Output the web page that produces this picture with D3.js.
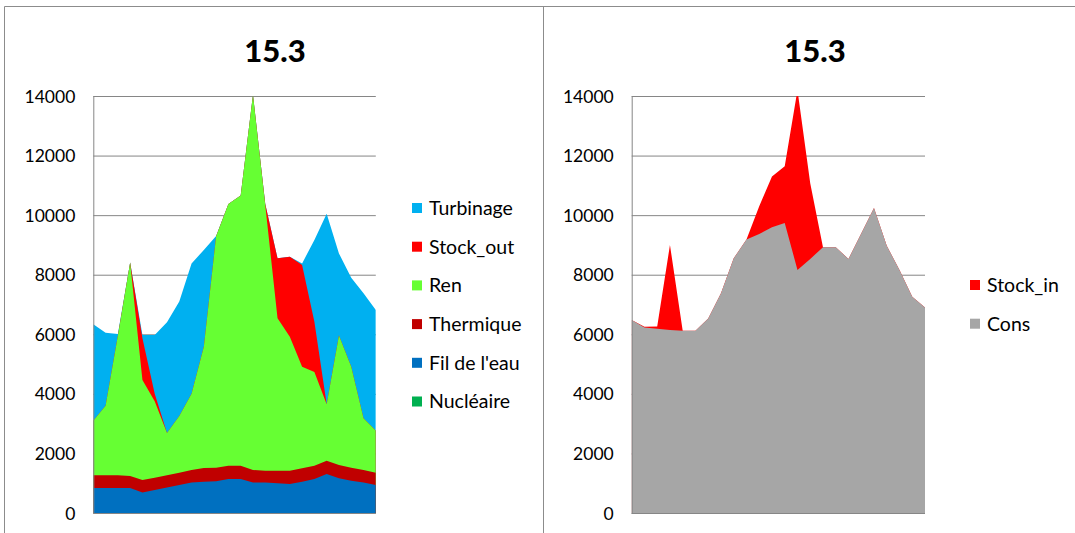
<!DOCTYPE html>
<html>
<head>
<meta charset="utf-8">
<script src="https://cdn.jsdelivr.net/npm/d3@7"></script>
<style>
  html, body { margin: 0; padding: 0; background: #fff; }
  svg { display: block; font-family: Lato, "Open Sans", sans-serif; }
</style>
</head>
<body>
<svg id="chart" width="1075" height="533"></svg>
<script>
// Hours of the day (one point per hour)
const hours = [1,2,3,4,5,6,7,8,9,10,11,12,13,14,15,16,17,18,19,20,21,22,23,24];

// Production mix (MW)
const nucleaire = [0,0,0,0,0,0,0,0,0,0,0,0,0,0,0,0,0,0,0,0,0,0,0,0];
const filDeLEau = [840,840,840,840,685,770,860,940,1020,1050,1065,1140,1140,1020,1020,995,975,1050,1140,1310,1165,1085,1020,940];
const thermique = [425,425,425,405,425,415,405,415,425,460,455,450,450,425,400,425,445,450,450,445,445,435,425,415];
const ren       = [1835,2335,4685,7165,3355,2565,1425,1905,2555,4075,7770,8780,9070,12595,8920,5115,4500,3410,3140,1895,4350,3390,1735,1410];
const stockOut  = [0,0,0,0,1400,250,0,0,0,0,0,0,0,0,30,2015,2685,3415,1690,0,0,0,0,0];
const turbinage = [3240,2450,60,0,110,1975,3710,3840,4380,3245,10,0,0,0,0,0,0,55,2745,6400,2755,2990,4195,4050];

// Demand side (MW)
const cons    = [6480,6230,6190,6140,6120,6120,6530,7380,8550,9180,9370,9590,9740,8160,8530,8920,8920,8530,9380,10240,8970,8160,7260,6900];
const stockIn = [0,20,70,2860,0,0,0,0,0,0,930,1710,1900,6040,2540,0,0,0,0,0,0,0,0,0];

const yTicks = [0,2000,4000,6000,8000,10000,12000,14000];
const title = "15.3";

const svg = d3.select("#chart");

// panel frames
const frame = svg.append("g").attr("stroke", "#8c8c8c").attr("stroke-width", 1).attr("fill", "none");
frame.append("line").attr("x1", 4.5).attr("x2", 1075).attr("y1", 6.5).attr("y2", 6.5);
frame.append("line").attr("x1", 4.5).attr("x2", 4.5).attr("y1", 6.5).attr("y2", 533);
frame.append("line").attr("x1", 543.5).attr("x2", 543.5).attr("y1", 6.5).attr("y2", 533);

function drawPanel(opts) {
  const { x0, x1, titleX, series, legendX, legendY0, id } = opts;
  const g = svg.append("g");
  const x = d3.scaleLinear().domain([0, hours.length - 1]).range([x0, x1]);
  const y = d3.scaleLinear().domain([0, 14000]).range([513, 96]);

  // title
  g.append("text").attr("x", titleX).attr("y", 62)
    .attr("text-anchor", "middle").attr("font-size", 31).attr("font-weight", 900)
    .attr("fill", "#000").text(title);

  // gridlines
  const yAxis = d3.axisLeft(y).tickValues(yTicks).tickSize(-(x1 - x0)).tickFormat(d => d);
  const ax = g.append("g").attr("transform", `translate(${x0},0)`).call(yAxis);
  ax.select(".domain").remove();
  ax.selectAll(".tick line").attr("stroke", "#868686").attr("stroke-width", 1);
  ax.selectAll(".tick text").attr("font-size", 17.5).attr("fill", "#000")
    .attr("font-family", "Lato, sans-serif").attr("x", -18).attr("dy", "0.35em");

  // stacked areas
  const keys = series.map(s => s.name);
  const table = hours.map((h, i) => {
    const row = { i };
    series.forEach(s => { row[s.name] = s.values[i]; });
    return row;
  });
  const stacked = d3.stack().keys(keys)(table);

  g.append("clipPath").attr("id", id)
    .append("rect").attr("x", x0).attr("y", 96).attr("width", x1 - x0).attr("height", 513 - 96);

  // each layer is filled from the baseline up to its stacked top, top layer first,
  // so lower layers paint over the upper ones without seams
  const area = d3.area()
    .x(d => x(d.data.i))
    .y0(y(0))
    .y1(d => y(d[1]));

  const layers = stacked.map((s, k) => ({ s, color: series[k].color })).reverse();
  g.append("g").attr("clip-path", `url(#${id})`)
    .selectAll("path").data(layers).join("path")
    .attr("d", d => area(d.s))
    .attr("fill", d => d.color);

  // axis lines
  g.append("line").attr("x1", x0).attr("x2", x1).attr("y1", 513.5).attr("y2", 513.5)
    .attr("stroke", "#868686");
  g.append("line").attr("x1", x0 + 0.5).attr("x2", x0 + 0.5).attr("y1", 96).attr("y2", 513.5)
    .attr("stroke", "#868686");

  // legend (top series first)
  const legend = g.append("g");
  series.slice().reverse().forEach((s, k) => {
    const cy = legendY0 + k * 38.7;
    legend.append("rect").attr("x", legendX).attr("y", cy - 5).attr("width", 10).attr("height", 10)
      .attr("fill", s.color);
    legend.append("text").attr("x", legendX + 17).attr("y", cy).attr("dy", "0.35em")
      .attr("font-size", 19.5).attr("fill", "#000").text(s.name);
  });
}

drawPanel({
  id: "clipLeft",
  x0: 93.3, x1: 375.8, titleX: 275,
  legendX: 412, legendY0: 208,
  series: [
    { name: "Nucléaire", values: nucleaire, color: "#00B050" },
    { name: "Fil de l'eau", values: filDeLEau, color: "#0070C0" },
    { name: "Thermique", values: thermique, color: "#C00000" },
    { name: "Ren", values: ren, color: "#66FF33" },
    { name: "Stock_out", values: stockOut, color: "#FF0000" },
    { name: "Turbinage", values: turbinage, color: "#00B0F0" }
  ]
});

drawPanel({
  id: "clipRight",
  x0: 631.7, x1: 925, titleX: 815,
  legendX: 970, legendY0: 285,
  series: [
    { name: "Cons", values: cons, color: "#A6A6A6" },
    { name: "Stock_in", values: stockIn, color: "#FF0000" }
  ]
});
</script>
</body>
</html>
